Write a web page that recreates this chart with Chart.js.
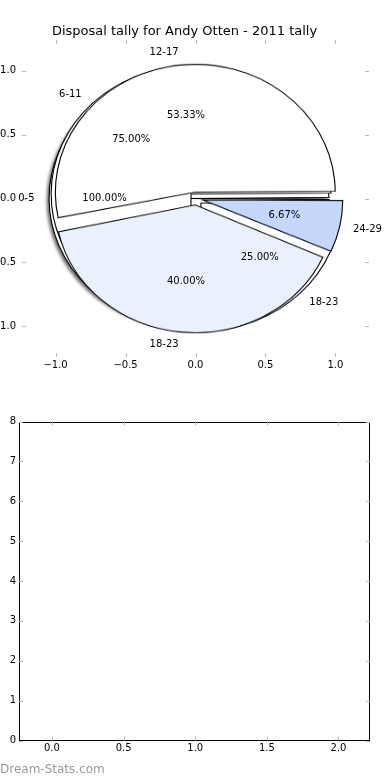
<!DOCTYPE html>
<html>
<head>
<meta charset="utf-8">
<script src="https://cdn.jsdelivr.net/npm/chart.js@4.4.0/dist/chart.umd.min.js"></script>
<style>
  html, body { margin: 0; padding: 0; background: #fff; }
  #wrap { position: relative; width: 390px; height: 780px; overflow: hidden; }
  .layer { position: absolute; left: 0; top: 0; }
  #mark { position: absolute; left: 0; top: 762px; font: 12px "DejaVu Sans"; line-height: 14px; color: #999; }
</style>
</head>
<body>
<div id="wrap">
  <div id="pieLayer" class="layer" style="width:390px;height:400px;">
    <div id="shadow1" class="layer" style="width:390px;height:400px;filter:drop-shadow(-2px 2px 1.5px rgba(0,0,0,0.55));"></div>
  </div>
  <canvas id="axesTop" class="layer" width="390" height="390"></canvas>
  <canvas id="axesBottom" class="layer" width="390" height="390" style="top:390px"></canvas>
  <div id="mark">Dream-Stats.com</div>
</div>
<script>
// three pies drawn on top of each other, same centre
const pie1Labels = ['0-5'];
const pie1Values = [1];
const pie2Labels = ['6-11', '18-23'];
const pie2Values = [3, 1];
const pie3Labels = ['12-17', '18-23', '24-29'];
const pie3Values = [8, 6, 1];

const pie1Colors = ['#ffffff'];
const pie2Colors = ['#ffffff', '#ffffff'];
const pie3Colors = ['#ffffff', '#eaf0fd', '#c5d8fc'];

const explode = 0.05;
const topTicks = [-1, -0.5, 0, 0.5, 1];

// empty lower axes
const bottomXTicks = [0, 0.5, 1, 1.5, 2];
const bottomYTicks = [0, 1, 2, 3, 4, 5, 6, 7, 8];
const bottomPoints = [];

const pies = [
  {labels: pie1Labels, values: pie1Values, colors: pie1Colors},
  {labels: pie2Labels, values: pie2Values, colors: pie2Colors},
  {labels: pie3Labels, values: pie3Values, colors: pie3Colors},
];

const tickFont = {family: 'DejaVu Sans', size: 10};
const fmt = v => Number(v).toFixed(1).replace('-', '\u2212');
const setTicks = arr => s => { s.ticks = arr.map(v => ({value: v})); };

// matplotlib style ticks pointing inwards, on all four sides
const inTicks = {
  id: 'inTicks',
  afterDraw(chart, args, opts) {
    const {ctx, chartArea: a, scales: {x, y}} = chart;
    ctx.save();
    if (opts.frame) {
      ctx.strokeStyle = '#000';
      ctx.lineWidth = 1;
      ctx.strokeRect(Math.round(a.left) + 0.5, Math.round(a.top) + 0.5,
        Math.round(a.width) - 1, Math.round(a.height) - 1);
    }
    ctx.strokeStyle = '#b8b8b8';
    ctx.lineWidth = 1;
    ctx.beginPath();
    x.ticks.forEach(t => {
      const px = Math.round(x.getPixelForValue(t.value)) + 0.5;
      ctx.moveTo(px, a.top); ctx.lineTo(px, a.top + 4);
      ctx.moveTo(px, a.bottom); ctx.lineTo(px, a.bottom - 4);
    });
    y.ticks.forEach(t => {
      const py = Math.round(y.getPixelForValue(t.value)) + 0.5;
      ctx.moveTo(a.left, py); ctx.lineTo(a.left + 4, py);
      ctx.moveTo(a.right, py); ctx.lineTo(a.right - 4, py);
    });
    ctx.stroke();
    ctx.restore();
  }
};

// slice labels and percentages, placed the way matplotlib does it
const pieText = {
  id: 'pieText',
  afterDraw(chart, args, opts) {
    if (!opts.show) return;
    const {ctx, scales: {x, y}} = chart;
    ctx.save();
    ctx.font = '10px "DejaVu Sans"';
    ctx.fillStyle = '#000';
    ctx.textBaseline = 'middle';
    pies.forEach(p => {
      const total = p.values.reduce((s, v) => s + v, 0);
      let start = 0;
      p.values.forEach((v, i) => {
        const frac = v / total;
        const mid = (start + frac / 2) * 2 * Math.PI;
        start += frac;
        const cx = explode * Math.cos(mid), cy = explode * Math.sin(mid);
        const lx = cx + 1.1 * Math.cos(mid), ly = cy + 1.1 * Math.sin(mid);
        ctx.textAlign = lx > 0 ? 'left' : 'right';
        ctx.fillText(p.labels[i], x.getPixelForValue(lx), y.getPixelForValue(ly));
        ctx.textAlign = 'center';
        ctx.fillText((frac * 100).toFixed(2) + '%',
          x.getPixelForValue(cx + 0.6 * Math.cos(mid)),
          y.getPixelForValue(cy + 0.6 * Math.sin(mid)));
      });
    });
    ctx.restore();
  }
};

const axesTop = new Chart(document.getElementById('axesTop'), {
  type: 'scatter',
  data: {datasets: [{data: []}]},
  plugins: [inTicks, pieText],
  options: {
    responsive: false,
    animation: false,
    events: [],
    layout: {padding: {left: 0, right: 21, top: 0, bottom: 0}},
    plugins: {
      legend: {display: false},
      tooltip: {enabled: false},
      title: {
        display: true,
        text: 'Disposal tally for Andy Otten - 2011 tally',
        color: '#000',
        font: {family: 'DejaVu Sans', size: 13, weight: 'normal'},
        padding: {top: 24, bottom: 0.4}
      },
      inTicks: {frame: false},
      pieText: {show: true}
    },
    scales: {
      x: {
        type: 'linear', min: -1.24, max: 1.24,
        afterBuildTicks: setTicks(topTicks),
        afterFit: s => { s.height = 33; },
        grid: {display: false, drawTicks: false},
        border: {display: false},
        ticks: {font: tickFont, color: '#000', padding: 2, maxRotation: 0, callback: fmt}
      },
      y: {
        type: 'linear', min: -1.24, max: 1.24,
        afterBuildTicks: setTicks(topTicks),
        afterFit: s => { s.width = 22; },
        grid: {display: false, drawTicks: false},
        border: {display: false},
        ticks: {font: tickFont, color: '#000', padding: 6, callback: fmt}
      }
    }
  }
});

// pie geometry taken from the top axes so the pies sit in data space
const sx = axesTop.scales.x, sy = axesTop.scales.y;
const cxPx = sx.getPixelForValue(0), cyPx = sy.getPixelForValue(0);
const rPx = sx.getPixelForValue(1) - cxPx;
const ratioY = (cyPx - sy.getPixelForValue(1)) / rPx;
const explodePx = explode * rPx;
const clear = 'rgba(0,0,0,0)';

// one canvas per slice, so every exploded wedge keeps the full radius
pies.forEach((p, pi) => {
  const total = p.values.reduce((s, v) => s + v, 0);
  // chart.js runs clockwise, matplotlib counter-clockwise: reverse the order
  const vals = p.values.slice().reverse();
  const cols = p.colors.slice().reverse();
  const labs = p.labels.slice().reverse();
  const holder = document.getElementById(pi === 0 ? 'shadow1' : 'pieLayer');
  vals.forEach((v, k) => {
    const fix = 1 - Math.sin(Math.min(Math.PI, v / total * 2 * Math.PI));
    const canvas = document.createElement('canvas');
    canvas.width = 390;
    canvas.height = 397;
    canvas.className = 'layer';
    canvas.style.left = (cxPx - canvas.width / 2) + 'px';
    canvas.style.top = (cyPx - canvas.height / 2) + 'px';
    canvas.style.transformOrigin = '50% 50%';
    canvas.style.transform = 'scaleY(' + ratioY + ')';
    holder.appendChild(canvas);
    new Chart(canvas, {
      type: 'pie',
      data: {
        labels: labs,
        datasets: [{
          data: vals,
          backgroundColor: cols.map((c, j) => j === k ? c : clear),
          borderColor: cols.map((c, j) => j === k ? '#000' : clear),
          borderWidth: vals.map((u, j) => j === k ? 1.1 : 0),
          borderJoinStyle: 'miter',
          offset: vals.map((u, j) => j === k ? 4 * explodePx : 0)
        }]
      },
      options: {
        responsive: false,
        animation: false,
        events: [],
        rotation: 90,
        radius: rPx - fix * explodePx,
        plugins: {legend: {display: false}, tooltip: {enabled: false}}
      }
    });
  });
});

new Chart(document.getElementById('axesBottom'), {
  type: 'scatter',
  data: {datasets: [{data: bottomPoints}]},
  plugins: [inTicks],
  options: {
    responsive: false,
    animation: false,
    events: [],
    layout: {padding: {left: 0, right: 20, top: 31.5, bottom: 0}},
    plugins: {
      legend: {display: false},
      tooltip: {enabled: false},
      inTicks: {frame: true}
    },
    scales: {
      x: {
        type: 'linear', min: -0.23, max: 2.22,
        afterBuildTicks: setTicks(bottomXTicks),
        afterFit: s => { s.height = 39.5; },
        grid: {display: false, drawTicks: false},
        border: {display: false},
        ticks: {font: tickFont, color: '#000', padding: 2, maxRotation: 0, callback: fmt}
      },
      y: {
        type: 'linear', min: 0, max: 8,
        afterBuildTicks: setTicks(bottomYTicks),
        afterFit: s => { s.width = 19; },
        grid: {display: false, drawTicks: false},
        border: {display: false},
        ticks: {font: tickFont, color: '#000', padding: 3, callback: v => String(v)}
      }
    }
  }
});
</script>
</body>
</html>
